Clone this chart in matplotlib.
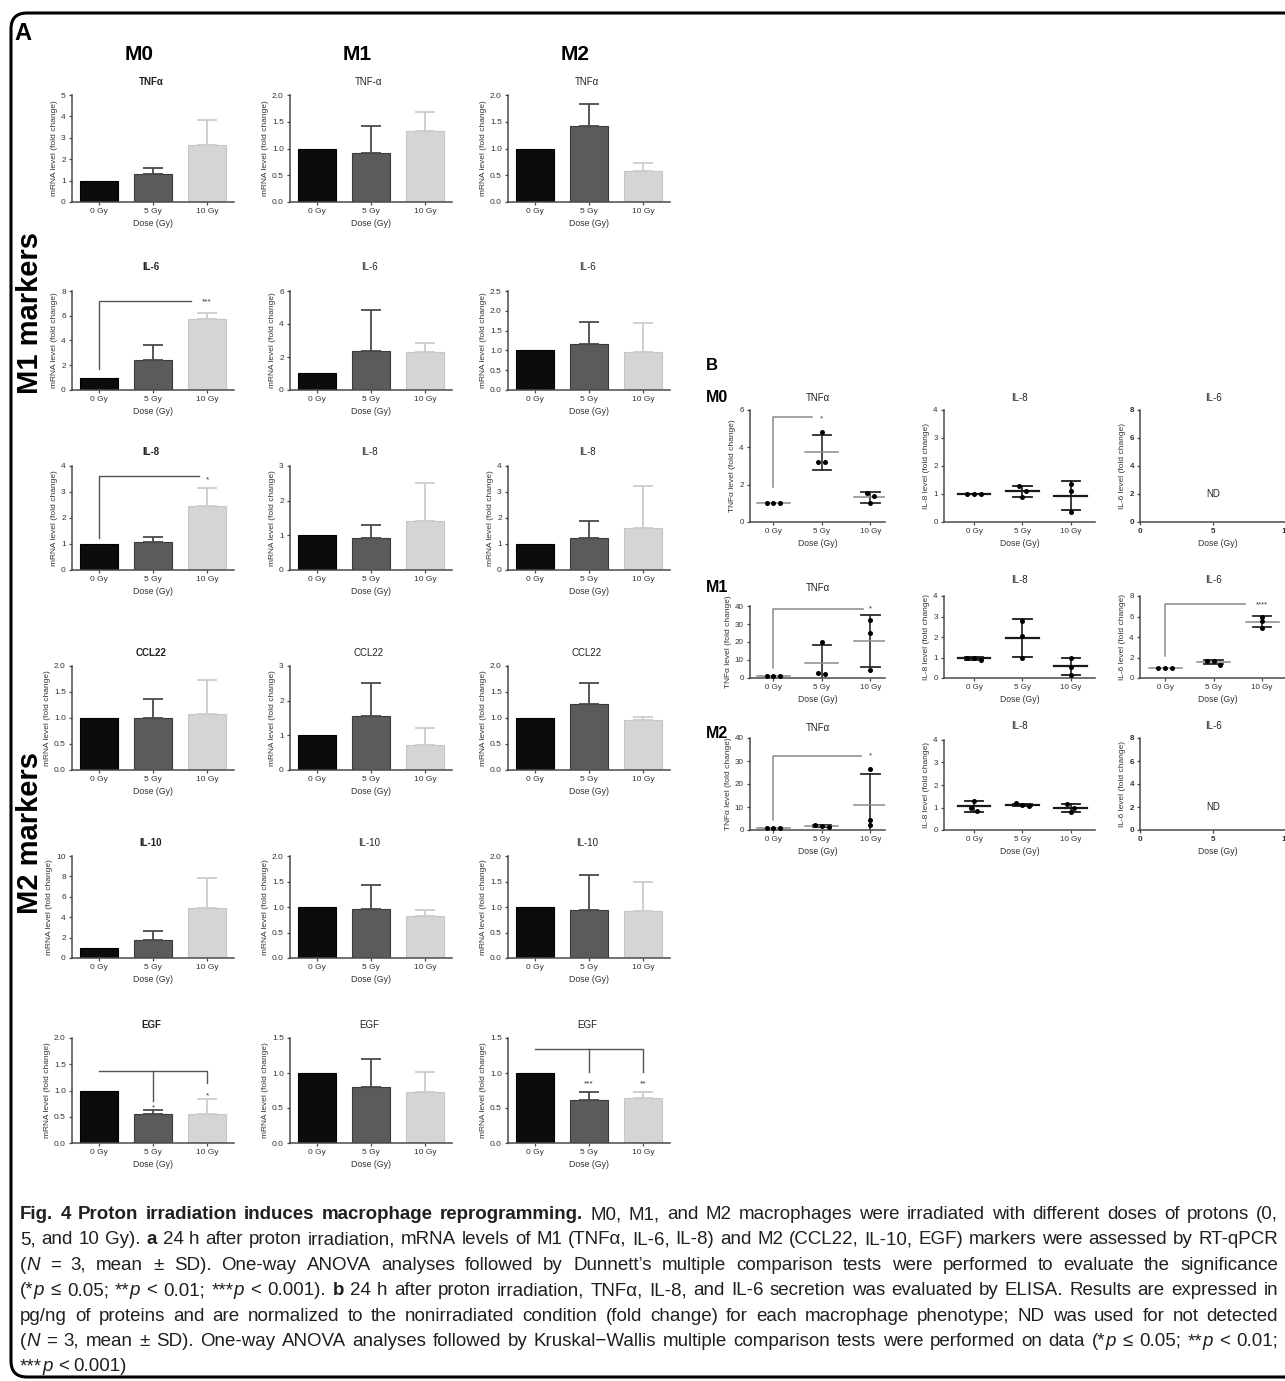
import re
import numpy as np
import matplotlib
matplotlib.use('Agg')
import matplotlib.pyplot as plt
from matplotlib.patches import FancyBboxPatch
from matplotlib.transforms import IdentityTransform
from matplotlib.font_manager import FontProperties

plt.rcParams['font.family'] = ['Liberation Sans', 'DejaVu Sans']

# ------------------------------------------------------------------ data
doses = ['0 Gy', '5 Gy', '10 Gy']
phenotypes = ['M0', 'M1', 'M2']

# Panel A : RT-qPCR, bar = mean, upper error bar = SD
a_titles_m0 = ['TNFα', 'IL-6', 'IL-8', 'CCL22', 'IL-10', 'EGF']
a_titles_m1 = ['TNF-α', 'IL-6', 'IL-8', 'CCL22', 'IL-10', 'EGF']
a_titles_m2 = ['TNFα', 'IL-6', 'IL-8', 'CCL22', 'IL-10', 'EGF']

a_mean_m0 = [[1.0, 1.30, 2.65], [1.0, 2.45, 5.70], [1.0, 1.08, 2.47],
             [1.0, 1.00, 1.08], [1.0, 1.80, 4.90], [1.0, 0.56, 0.56]]
a_sd_m0 = [[0, 0.27, 1.20], [0, 1.20, 0.50], [0, 0.20, 0.68],
           [0, 0.37, 0.65], [0, 0.80, 2.95], [0, 0.06, 0.27]]
a_mean_m1 = [[1.0, 0.91, 1.33], [1.0, 2.35, 2.30], [1.0, 0.93, 1.42],
             [1.0, 1.57, 0.72], [1.0, 0.96, 0.83], [1.0, 0.80, 0.73]]
a_sd_m1 = [[0, 0.51, 0.35], [0, 2.50, 0.55], [0, 0.37, 1.10],
           [0, 0.95, 0.50], [0, 0.48, 0.12], [0, 0.40, 0.28]]
a_mean_m2 = [[1.0, 1.42, 0.58], [1.0, 1.15, 0.97], [1.0, 1.25, 1.62],
             [1.0, 1.27, 0.96], [1.0, 0.95, 0.92], [1.0, 0.61, 0.65]]
a_sd_m2 = [[0, 0.41, 0.15], [0, 0.57, 0.71], [0, 0.65, 1.60],
           [0, 0.40, 0.06], [0, 0.67, 0.57], [0, 0.12, 0.08]]

a_ymax_m0 = [5, 8, 4, 2, 10, 2]
a_ystep_m0 = [1, 2, 1, 0.5, 2, 0.5]
a_ymax_m1 = [2, 6, 3, 3, 2, 1.5]
a_ystep_m1 = [0.5, 2, 1, 1, 0.5, 0.5]
a_ymax_m2 = [2, 2.5, 4, 2, 2, 1.5]
a_ystep_m2 = [0.5, 0.5, 1, 0.5, 0.5, 0.5]

# significance (row, column, label, dose index, y of label)
a_sig_row = [1, 2, 5, 5, 5, 5]
a_sig_col = [0, 0, 0, 0, 2, 2]
a_sig_txt = ['***', '*', '*', '*', '***', '**']
a_sig_dose = [2, 2, 1, 2, 1, 2]
a_sig_y = [7.15, 3.45, 0.66, 0.90, 0.84, 0.84]

# Panel B : ELISA, three replicates per dose (None = not detected)
b_m0_tnfa = [[1.00, 1.00, 1.00], [4.80, 3.20, 3.20], [1.55, 1.40, 1.00]]
b_m0_il8 = [[1.00, 1.00, 1.00], [1.30, 1.10, 0.90], [1.35, 1.12, 0.35]]
b_m0_il6 = None
b_m1_tnfa = [[0.90, 0.90, 0.90], [19.8, 2.0, 2.6], [32.5, 25.0, 4.2]]
b_m1_il8 = [[1.00, 0.88, 1.00], [2.80, 2.05, 1.00], [1.00, 0.55, 0.15]]
b_m1_il6 = [[1.00, 1.00, 1.00], [1.70, 1.62, 1.30], [6.00, 5.60, 4.90]]
b_m2_tnfa = [[0.90, 0.90, 0.90], [2.00, 1.50, 1.60], [26.5, 4.2, 2.0]]
b_m2_il8 = [[1.30, 0.85, 1.00], [1.18, 1.08, 1.10], [1.15, 1.00, 0.78]]
b_m2_il6 = None

b_titles = ['TNFα', 'IL-8', 'IL-6']
b_ymax = [[6, 4, 8], [40, 4, 8], [40, 4, 8]]
b_ystep = [[2, 1, 2], [10, 1, 2], [10, 1, 2]]
# significance (row, column, label, y of label)
b_sig_row = [0, 1, 1, 2]
b_sig_col = [0, 0, 2, 0]
b_sig_txt = ['*', '*', '****', '*']
b_sig_dose = [1, 2, 2, 2]
b_sig_y = [5.55, 38.3, 7.1, 32.3]

caption_lines = [
    "<b>Fig. 4 Proton irradiation induces macrophage reprogramming.</b> M0, M1, and M2 macrophages were irradiated with different doses of protons (0,",
    "5, and 10 Gy). <b>a</b> 24 h after proton irradiation, mRNA levels of M1 (TNFα, IL-6, IL-8) and M2 (CCL22, IL-10, EGF) markers were assessed by RT-qPCR",
    "(<i>N</i> = 3, mean ± SD). One-way ANOVA analyses followed by Dunnett’s multiple comparison tests were performed to evaluate the significance",
    "(*<i>p</i> ≤ 0.05; **<i>p</i> < 0.01; ***<i>p</i> < 0.001). <b>b</b> 24 h after proton irradiation, TNFα, IL-8, and IL-6 secretion was evaluated by ELISA. Results are expressed in",
    "pg/ng of proteins and are normalized to the nonirradiated condition (fold change) for each macrophage phenotype; ND was used for not detected",
    "(<i>N</i> = 3, mean ± SD). One-way ANOVA analyses followed by Kruskal−Wallis multiple comparison tests were performed on data (*<i>p</i> ≤ 0.05; **<i>p</i> < 0.01;",
    "***<i>p</i> < 0.001)",
]

# ------------------------------------------------------------------ figure
W, H = 1285, 1381
fig = plt.figure(figsize=(W / 100, H / 100), dpi=100)
fig.patch.set_facecolor('white')


def add_ax(l, t, r, b):
    return fig.add_axes([l / W, 1 - b / H, (r - l) / W, (b - t) / H])


def ftext(x, y, s, **kw):
    return fig.text(x / W, 1 - y / H, s, **kw)


SPC = '#4a4a4a'


def style(ax, fs=6):
    for s in ['top', 'right']:
        ax.spines[s].set_visible(False)
    for s in ['left', 'bottom']:
        ax.spines[s].set_color(SPC)
        ax.spines[s].set_linewidth(1.1)
    ax.tick_params(length=2.5, width=0.9, colors=SPC, labelsize=fs, pad=2,
                   labelcolor='#333333')
    ax.set_facecolor('none')


def fmt_ticks(ax, ymax, step, bold=False):
    ticks = np.arange(0, ymax + step / 2, step)
    ax.set_yticks(ticks)
    if step < 1:
        labs = ['%.1f' % v for v in ticks]
    else:
        labs = ['%d' % v for v in ticks]
    ax.set_yticklabels(labs, fontweight='bold' if bold else 'normal')
    ax.set_ylim(0, ymax)


# ---------------- Panel A
ftext(23, 33, 'A', fontsize=17, fontweight='bold', ha='center', va='center')
a_col_left = [72, 290, 508]
a_col_w = 162
a_rows = [(95, 202), (291, 390), (466, 570), (666, 770), (856, 958), (1038, 1143)]
a_title_y = [82, 267, 452, 653, 843, 1025]
for c, ph in enumerate(phenotypes):
    ftext(a_col_left[c] + a_col_w / 2 - 14, 54, ph, fontsize=15, fontweight='bold',
          ha='center', va='center')

bar_fc = ['#0c0c0c', '#5b5b5b', '#d5d5d5']
bar_ec = ['#000000', '#3a3a3a', '#c6c6c6']
err_c = ['#000000', '#4a4a4a', '#cdcdcd']

a_means = [a_mean_m0, a_mean_m1, a_mean_m2]
a_sds = [a_sd_m0, a_sd_m1, a_sd_m2]
a_titles = [a_titles_m0, a_titles_m1, a_titles_m2]
a_ymax = [a_ymax_m0, a_ymax_m1, a_ymax_m2]
a_ystep = [a_ystep_m0, a_ystep_m1, a_ystep_m2]
a_axes = {}
for c in range(3):
    for r in range(6):
        t, b = a_rows[r]
        l = a_col_left[c]
        ax = add_ax(l, t, l + a_col_w, b)
        a_axes[(r, c)] = ax
        style(ax)
        x = np.arange(3)
        m = a_means[c][r]
        sd = a_sds[c][r]
        ax.bar(x, m, width=0.7, color=bar_fc, edgecolor=bar_ec, linewidth=0.8, zorder=2)
        for i in range(3):
            if sd[i] > 0:
                ax.errorbar(x[i], m[i], yerr=[[0], [sd[i]]], fmt='none', ecolor=err_c[i],
                            elinewidth=1.3, capsize=7, capthick=1.3, zorder=3)
        ax.set_xlim(-0.5, 2.5)
        ax.set_xticks(x)
        ax.set_xticklabels(doses)
        fmt_ticks(ax, a_ymax[c][r], a_ystep[c][r])
        ax.set_ylabel('mRNA level (fold change)', fontsize=6, labelpad=2, color='#333333')
        ax.set_xlabel('Dose (Gy)', fontsize=6.3, labelpad=3, color='#333333')
        ftext(l + a_col_w / 2 - 2, a_title_y[r], a_titles[c][r], fontsize=7,
              fontweight='bold' if c == 0 else 'normal', ha='center', va='center',
              color='#222222')

# significance brackets, panel A
BRC = '#555555'
ax = a_axes[(1, 0)]
ax.plot([0, 0, 1.7], [1.7, 7.2, 7.2], color=BRC, lw=1.0, clip_on=False)
ax = a_axes[(2, 0)]
ax.plot([0, 0, 1.85], [1.25, 3.6, 3.6], color=BRC, lw=1.0, clip_on=False)
ax = a_axes[(5, 0)]
ax.plot([0, 2, 2], [1.38, 1.38, 1.15], color=BRC, lw=1.0, clip_on=False)
ax.plot([1, 1], [1.38, 0.80], color=BRC, lw=1.0, clip_on=False)
ax = a_axes[(5, 2)]
ax.plot([0, 2, 2], [1.35, 1.35, 1.02], color=BRC, lw=1.0, clip_on=False)
ax.plot([1, 1], [1.35, 1.02], color=BRC, lw=1.0, clip_on=False)
for r, c, s, d, y in zip(a_sig_row, a_sig_col, a_sig_txt, a_sig_dose, a_sig_y):
    a_axes[(r, c)].text(d, y, s, fontsize=6, ha='center', va='center', color='#333333')

# marker group labels
ftext(30, 313, 'M1 markers', fontsize=21, fontweight='bold', rotation=90,
      ha='center', va='center')
ftext(30, 833, 'M2 markers', fontsize=21, fontweight='bold', rotation=90,
      ha='center', va='center')

# ---------------- Panel B
ftext(706, 366, 'B', fontsize=12, fontweight='bold', ha='left', va='center')
b_row_lab_y = [398, 588, 733]
b_cols = [(750, 885, (-0.48, 2.3)), (944, 1095, (-0.62, 2.5)), (1140, 1295, (-0.52, 2.68))]
b_tops = [[410, 410, 410], [606, 596, 596], [738, 740, 738]]
b_bottoms = [522, 678, 830]
b_title_y = [[398, 398, 398], [588, 580, 580], [728, 726, 726]]
b_data = [[b_m0_tnfa, b_m0_il8, b_m0_il6],
          [b_m1_tnfa, b_m1_il8, b_m1_il6],
          [b_m2_tnfa, b_m2_il8, b_m2_il6]]
b_ylabels = ['TNFα level (fold change)', 'IL-8 level (fold change)', 'IL-6 level (fold change)']


def jitter(vals, span):
    vals = np.asarray(vals, float)
    order = np.argsort(-vals)
    offs = np.zeros(len(vals))
    groups = []
    for idx in order:
        if groups and abs(vals[groups[-1][-1]] - vals[idx]) < 0.05 * span:
            groups[-1].append(idx)
        else:
            groups.append([idx])
    for g in groups:
        k = len(g)
        for j, idx in enumerate(g):
            offs[idx] = (j - (k - 1) / 2) * 0.14
    return offs


b_axes = {}
for r in range(3):
    ftext(706, b_row_lab_y[r], phenotypes[r], fontsize=11.5, fontweight='bold',
          ha='left', va='center')
    for c in range(3):
        l, rr, xl = b_cols[c]
        ax = add_ax(l, b_tops[r][c], rr, b_bottoms[r])
        b_axes[(r, c)] = ax
        style(ax, fs=5.8)
        data = b_data[r][c]
        nd = data is None
        fmt_ticks(ax, b_ymax[r][c], b_ystep[r][c], bold=nd)
        ax.set_ylabel(b_ylabels[c], fontsize=6, labelpad=2, color='#333333')
        ax.set_xlabel('Dose (Gy)', fontsize=6.2, labelpad=3, color='#333333')
        ftext((l + min(rr, 1285)) / 2 if c < 2 else 1213, b_title_y[r][c], b_titles[c],
              fontsize=7, ha='center', va='center', color='#222222')
        if nd:
            ax.set_xlim(0, 10.6)
            ax.set_xticks([0, 5, 10])
            ax.set_xticklabels(['0', '5', '10'], fontweight='bold')
            ax.text(5, 2, 'ND', fontsize=7, ha='center', va='center', color='#222222')
            continue
        ax.set_xlim(*xl)
        ax.set_xticks([0, 1, 2])
        ax.set_xticklabels(doses)
        span = b_ymax[r][c]
        if c == 1:
            mcol, mlw, wcol = '#1a1a1a', 1.6, '#1a1a1a'
        else:
            mcol, mlw, wcol = '#8a8a8a', 1.1, '#2a2a2a'
        for i, pts in enumerate(data):
            pts = np.asarray(pts, float)
            mu = pts.mean()
            sd = pts.std(ddof=1)
            if sd > 0:
                ax.plot([i, i], [mu - sd, mu + sd], color=wcol, lw=1.2, zorder=2)
                ax.plot([i - 0.19, i + 0.19], [mu + sd, mu + sd], color=wcol, lw=1.3, zorder=2)
                ax.plot([i - 0.19, i + 0.19], [mu - sd, mu - sd], color=wcol, lw=1.3, zorder=2)
            ax.plot([i - 0.34, i + 0.34], [mu, mu], color=mcol, lw=mlw, zorder=2)
            ax.scatter(i + jitter(pts, span), pts, s=13, color='black', zorder=4,
                       linewidths=0)

BRB = '#8a8a8a'
ax = b_axes[(0, 0)]
ax.plot([0, 0, 0.8], [1.9, 5.6, 5.6], color=BRB, lw=1.1, clip_on=False)
ax = b_axes[(1, 0)]
ax.plot([0, 0, 1.85], [5.5, 38.5, 38.5], color=BRB, lw=1.1, clip_on=False)
ax = b_axes[(1, 2)]
ax.plot([0, 0, 1.65], [2.1, 7.2, 7.2], color=BRB, lw=1.1, clip_on=False)
ax = b_axes[(2, 0)]
ax.plot([0, 0, 1.8], [4.5, 32.0, 32.0], color=BRB, lw=1.1, clip_on=False)
for r, c, s, d, y in zip(b_sig_row, b_sig_col, b_sig_txt, b_sig_dose, b_sig_y):
    b_axes[(r, c)].text(d, y, s, fontsize=5.5, ha='center', va='center', color='#333333')

# ---------------- caption (justified)
renderer = fig.canvas.get_renderer()
CAP_FAM = ['Liberation Sans Narrow', 'Liberation Sans', 'DejaVu Sans']
CAP_COL = '#231f20'


def parse(line):
    segs = []
    bold = ital = False
    for tok in re.split(r'(</?[bi]>)', line):
        if tok == '<b>':
            bold = True
        elif tok == '</b>':
            bold = False
        elif tok == '<i>':
            ital = True
        elif tok == '</i>':
            ital = False
        elif tok:
            segs.append((tok, bold, ital))
    words = [[]]
    for txt, bo, it in segs:
        parts = txt.split(' ')
        for k, p in enumerate(parts):
            if k > 0:
                words.append([])
            if p:
                words[-1].append((p, bo, it))
    return [w for w in words if w]


def fp(size, bo, it):
    return FontProperties(family=CAP_FAM, size=size, weight='bold' if bo else 'normal',
                          style='italic' if it else 'normal')


def width(s, prop):
    t = fig.text(0, 0, s, fontproperties=prop)
    w = t.get_window_extent(renderer).width
    t.remove()
    return w


parsed = [parse(l) for l in caption_lines]
X0, X1 = 20, 1278
base = 13.0
sp0 = width('a a', fp(base, False, False)) - width('aa', fp(base, False, False))
nat = []
for words in parsed[:-1]:
    tot = sum(width(p, fp(base, bo, it)) for w in words for (p, bo, it) in w)
    nat.append(tot + sp0 * (len(words) - 1))
cap_fs = base * 0.985 * (X1 - X0) / max(nat)
sp = sp0 * cap_fs / base
for li, words in enumerate(parsed):
    widths = [[width(p, fp(cap_fs, bo, it)) for (p, bo, it) in w] for w in words]
    wsum = sum(sum(ww) for ww in widths)
    if li < len(parsed) - 1 and len(words) > 1:
        gap = (X1 - X0 - wsum) / (len(words) - 1)
    else:
        gap = sp
    x = X0
    y = 1219 + 25.4 * li
    for w, ww in zip(words, widths):
        for (p, bo, it), pw in zip(w, ww):
            ftext(x, y, p, fontproperties=fp(cap_fs, bo, it), ha='left', va='baseline',
                  color=CAP_COL)
            x += pw
        x += gap

# ---------------- rounded frame
frame = FancyBboxPatch((11, H - 1377), 1420, 1364,
                       boxstyle='round,pad=0,rounding_size=16',
                       transform=IdentityTransform(), fill=False, lw=2.2, ec='black')
fig.add_artist(frame)

fig.savefig('out.png', dpi=100, facecolor='white')
